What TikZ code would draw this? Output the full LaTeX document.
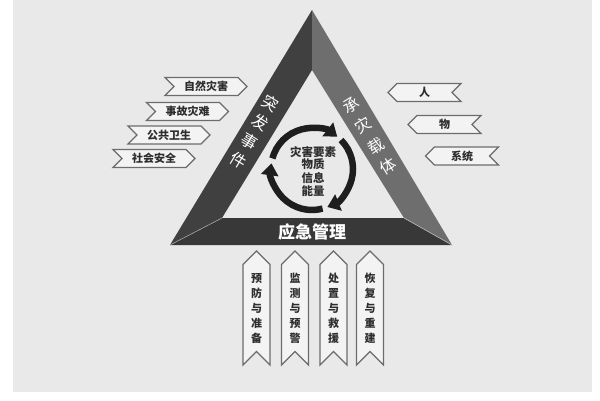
\documentclass[tikz,border=0pt]{standalone}
\usepackage{fontspec}
\newfontfamily\cjk{Noto Sans CJK SC}
\usetikzlibrary{shapes.symbols,arrows.meta,calc}
\definecolor{bg}{HTML}{E9E9E9}
\definecolor{leftband}{HTML}{404040}
\definecolor{rightband}{HTML}{6E6E6E}
\definecolor{bottomband}{HTML}{383838}
\definecolor{tagline}{HTML}{6C6C6C}
\definecolor{tagfill}{HTML}{F3F3F3}
\definecolor{tagtext}{HTML}{2E2E2E}
\definecolor{ring}{HTML}{1E1E1E}
\tikzset{
  ltag/.style={signal, signal to=east, signal from=west, draw=tagline, line width=1.3pt,
    fill=tagfill, minimum width=82pt, minimum height=18pt, inner sep=0pt,
    font=\cjk\bfseries\fontsize{11}{12}\selectfont, text=tagtext},
  rtag/.style={ltag, signal to=west, signal from=east, minimum width=73pt},
  btag/.style={signal, signal to=north, signal from=south, draw=tagline, line width=1.3pt,
    fill=tagfill, minimum width=27pt, minimum height=98pt, inner sep=0pt, align=center,
    font=\cjk\bfseries\fontsize{11}{15}\selectfont, text=tagtext},
  bandtxt/.style={font=\cjk\fontsize{16}{16}\selectfont, text=white, inner sep=-1.5pt},
  ringtxt/.style={font=\cjk\bfseries\fontsize{11.5}{12}\selectfont, text=tagtext, inner sep=0pt},
  ringarrow/.style={draw=ring, line width=6.5pt, -{Triangle[width=17pt,length=12pt]}},
}
\begin{document}
\begin{tikzpicture}[x=1pt,y=1pt]
\useasboundingbox (0,0) rectangle (600,400);
\fill[white] (0,0) rectangle (600,400);
\fill[bg] (13,8) rectangle (592,400);
% triangle corners
\coordinate (A) at (312,390);
\coordinate (B) at (170,155);
\coordinate (C) at (452,155);
\coordinate (a) at (312,330);
\coordinate (b) at (222,182);
\coordinate (c) at (404,182);
\fill[leftband] (A) -- (a) -- (b) -- (B) -- cycle;
\fill[rightband] (A) -- (C) -- (c) -- (a) -- cycle;
\fill[bottomband] (B) -- (b) -- (c) -- (C) -- cycle;
\draw[draw=gray!70, line width=0.6pt] (B) -- (b);
\draw[draw=gray!50, line width=0.6pt] (c) -- (C);
% band texts
\node[bandtxt, rotate=-31] (t1) at (271,297) {突};
\node[bandtxt, rotate=-31] (t2) at (260,278) {发};
\node[bandtxt, rotate=-31] (t3) at (249,259) {事};
\node[bandtxt, rotate=-31] (t4) at (238,240) {件};
\node[bandtxt, rotate=32] (r1) at (351,295) {承};
\node[bandtxt, rotate=32] (r2) at (363,275) {灾};
\node[bandtxt, rotate=32] (r3) at (376,254) {载};
\node[bandtxt, rotate=32] (r4) at (388,234) {体};
\node[bandtxt, font=\cjk\bfseries\fontsize{17}{17}\selectfont] (mgmt) at (312,168) {应急管理};
% ring
\coordinate (O) at (312,231);
\draw[ringarrow] ($(O)+(165:41)$) arc[start angle=165, end angle=52, radius=41];
\draw[ringarrow] ($(O)+(45:41)$) arc[start angle=45, end angle=-68, radius=41];
\draw[ringarrow] ($(O)+(-75:41)$) arc[start angle=-75, end angle=-188, radius=41];
\node[ringtxt] (z0) at (313,248) {灾害要素};
\node[ringtxt] (z1) at (313,236) {物质};
\node[ringtxt] (z2) at (313,222) {信息};
\node[ringtxt] (z3) at (313,209) {能量};
% left tags
\node[ltag] (l1) at (206,313.5) {自然灾害};
\node[ltag] (l2) at (187.5,288.5) {事故灾难};
\node[ltag] (l3) at (169,265) {公共卫生};
\node[ltag] (l4) at (154,241.5) {社会安全};
% right tags
\node[rtag] (q1) at (424.5,307.5) {人};
\node[rtag] (q2) at (444.5,275.5) {物};
\node[rtag] (q3) at (462,244) {系统};
% bottom banners
\node[btag] (b1) at (256.5,92) {预\\防\\与\\准\\备};
\node[btag] (b2) at (295,92) {监\\测\\与\\预\\警};
\node[btag] (b3) at (333.5,92) {处\\置\\与\\救\\援};
\node[btag] (b4) at (370,92) {恢\\复\\与\\重\\建};
\end{tikzpicture}
\end{document}
